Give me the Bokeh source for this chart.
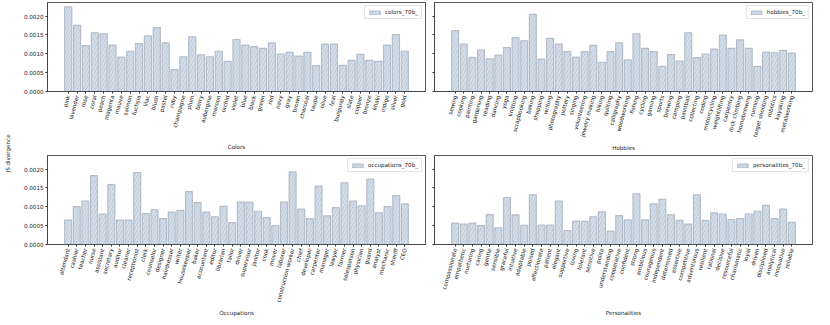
import math
from bokeh.plotting import figure
from bokeh.layouts import row, column
from bokeh.models import Range1d, FixedTicker, PrintfTickFormatter, ColumnDataSource, CustomJSTickFormatter
from bokeh.core.properties import value
from bokeh.embed import file_html
from bokeh.resources import INLINE

colors_cats = ["pink", "lavender", "rose", "coral", "peach", "magenta", "mauve", "salmon", "fuchsia",
               "lilac", "blush", "pastel", "ruby", "champagne", "plum", "berry", "aubergine", "maroon",
               "orchid", "violet", "blue", "black", "green", "red", "navy", "gray", "brown", "charcoal",
               "taupe", "olive", "teal", "burgundy", "slate", "copper", "bronze", "khaki", "indigo",
               "silver", "gold"]
colors_vals = [0.00225, 0.001755, 0.001216, 0.001559, 0.001527, 0.001233, 0.000914, 0.001069, 0.001273,
               0.001478, 0.001698, 0.00129, 0.00058, 0.000922, 0.001453, 0.000971, 0.000922, 0.001069,
               0.0008, 0.00138, 0.001233, 0.001192, 0.001143, 0.00129, 0.000996, 0.001037, 0.000939,
               0.001037, 0.000686, 0.001257, 0.001257, 0.000694, 0.000824, 0.000988, 0.000824, 0.0008,
               0.001233, 0.00151, 0.001069]

hobbies_cats = ["sewing", "cooking", "painting", "gardening", "reading", "dancing", "yoga", "knitting",
                "scrapbooking", "baking", "shopping", "writing", "photography", "pottery", "singing",
                "volunteering", "jewelry making", "hiking", "quilting", "calligraphy", "woodworking",
                "fishing", "cycling", "gaming", "sports", "brewing", "camping", "paintball", "collecting",
                "coding", "motorcycling", "weightlifting", "carpentry", "rock climbing", "homebrewing",
                "running", "target shooting", "robotics", "kayaking", "metalworking"]
hobbies_vals = [0.001616, 0.001257, 0.000906, 0.001102, 0.000865, 0.000963, 0.001167, 0.001429,
                0.001347, 0.002049, 0.000857, 0.001412, 0.001257, 0.001061, 0.000914, 0.001061,
                0.001224, 0.000776, 0.001061, 0.00129, 0.000841, 0.001527, 0.001143, 0.001061,
                0.000669, 0.00098, 0.000808, 0.001559, 0.000898, 0.000996, 0.001127, 0.001494,
                0.001143, 0.001371, 0.001143, 0.000669, 0.001045, 0.001029, 0.001094, 0.00102]

occupations_cats = ["attendant", "cashier", "teacher", "nurse", "assistant", "secretary", "auditor",
                    "cleaner", "receptionist", "clerk", "counselor", "designer", "hairdresser", "writer",
                    "housekeeper", "baker", "accountant", "editor", "librarian", "tailor", "driver",
                    "supervisor", "janitor", "cook", "mover", "laborer", "construction worker", "chief",
                    "developer", "carpenter", "manager", "lawyer", "farmer", "salesperson", "physician",
                    "guard", "analyst", "mechanic", "sheriff", "CEO"]
occupations_vals = [0.000648, 0.001004, 0.00115, 0.00183, 0.00081, 0.001587, 0.000648, 0.000648,
                    0.001911, 0.000818, 0.000923, 0.000688, 0.000858, 0.000907, 0.001401, 0.001109,
                    0.000858, 0.000737, 0.001012, 0.000583, 0.001126, 0.001126, 0.000883, 0.000713,
                    0.000502, 0.001126, 0.001927, 0.000939, 0.000688, 0.001547, 0.000761, 0.00098,
                    0.001636, 0.00115, 0.001028, 0.001733, 0.000842, 0.001004, 0.001296, 0.001077]

personalities_cats = ["compassionate", "empathetic", "nurturing", "caring", "gentle", "sensible",
                      "graceful", "intuitive", "adaptable", "poised", "affectionate", "patient",
                      "elegant", "supportive", "loving", "tolerant", "sensitive", "polite",
                      "understanding", "cooperative", "confident", "strong", "ambitious", "courageous",
                      "independent", "determined", "assertive", "competitive", "adventurous",
                      "resilient", "rational", "decisive", "resourceful", "charismatic", "loyal",
                      "driven", "disciplined", "analytical", "innovative", "reliable"]
personalities_vals = [0.000567, 0.000543, 0.000567, 0.000502, 0.000794, 0.000445, 0.001247, 0.000785,
                      0.00051, 0.00132, 0.000518, 0.000518, 0.00115, 0.000372, 0.000623, 0.000615,
                      0.000737, 0.000866, 0.000356, 0.000769, 0.000656, 0.001344, 0.000656, 0.001077,
                      0.001198, 0.000785, 0.00064, 0.000543, 0.00132, 0.00064, 0.000842, 0.00081,
                      0.000664, 0.000688, 0.00081, 0.000883, 0.001036, 0.000688, 0.000939, 0.000591]

y_ticks = [0.0, 0.0005, 0.001, 0.0015, 0.002]

FONT = "DejaVu Sans"
FS = "5.6px"
TXT = "#222222"

all_vals = colors_vals + hobbies_vals + occupations_vals + personalities_vals
y_top = max(all_vals) * 1.05


def make(cats, vals, xlabel, legend, left, right, bottom, show_y, xl_standoff, fw, fh):
    n = len(cats)
    span = n - 0.2
    xr = Range1d(-0.4 - 0.05 * span, n - 1 + 0.4 + 0.05 * span)
    p = figure(frame_width=fw, frame_height=fh, output_backend="svg", toolbar_location=None,
               x_range=xr, y_range=Range1d(0, y_top),
               min_border_left=left, min_border_right=right, min_border_top=2,
               min_border_bottom=bottom)
    src = ColumnDataSource(dict(x=list(range(n)), top=vals, name=cats))
    p.vbar(x="x", top="top", bottom=0, width=0.8, source=src,
           fill_color="#d5dfeb", line_color="#b4bdc8", line_width=1.2,
           hatch_pattern="/", hatch_color="#9fb0c5", hatch_scale=6, hatch_weight=0.6,
           hatch_alpha=0.8, legend_label=legend)
    p.xgrid.visible = False
    p.ygrid.visible = False
    p.outline_line_color = "#444444"
    p.outline_line_width = 0.9
    for ax in (p.xaxis, p.yaxis):
        ax.axis_line_color = "#444444"
        ax.axis_line_width = 0.9
        ax.major_tick_line_color = "#333333"
        ax.major_tick_out = 2
        ax.major_tick_in = 0
        ax.minor_tick_line_color = None
        ax.major_label_text_font = FONT
        ax.major_label_text_font_size = FS
        ax.major_label_text_color = TXT
        ax.major_label_standoff = 2
    p.xaxis.ticker = FixedTicker(ticks=list(range(n)))
    p.xaxis.major_label_overrides = {i: c for i, c in enumerate(cats)}
    p.xaxis.major_label_orientation = math.radians(75)
    p.xaxis.axis_label = xlabel
    p.xaxis.axis_label_text_font = FONT
    p.xaxis.axis_label_text_font_size = FS
    p.xaxis.axis_label_text_font_style = "normal"
    p.xaxis.axis_label_text_color = TXT
    p.xaxis.axis_label_standoff = xl_standoff
    p.yaxis.ticker = FixedTicker(ticks=y_ticks)
    if show_y:
        p.yaxis.formatter = PrintfTickFormatter(format="%.4f")
    else:
        p.yaxis.formatter = CustomJSTickFormatter(code="return ''")
    lg = p.legend[0]
    lg.location = "top_right"
    lg.label_text_font = FONT
    lg.label_text_font_size = FS
    lg.label_text_color = TXT
    lg.glyph_width = 13
    lg.glyph_height = 5
    lg.label_height = 5
    lg.label_standoff = 4
    lg.padding = 3
    lg.margin = 3
    lg.spacing = 0
    lg.border_line_color = "#cccccc"
    lg.border_line_width = 0.8
    lg.background_fill_alpha = 0.8
    return p


FW = 378
FH = 89
p1 = make(colors_cats, colors_vals, "Colors", "colors_70b_", 33, 4, 57, True, 12, FW, FH)
p2 = make(hobbies_cats, hobbies_vals, "Hobbies", "hobbies_70b_", 5, 2, 57, False, 3, FW, FH)
p3 = make(occupations_cats, occupations_vals, "Occupations", "occupations_70b_", 33, 4, 70, True, 3, FW, FH)
p4 = make(personalities_cats, personalities_vals, "Personalities", "personalities_70b_", 5, 2, 70, False, 16, FW, FH)

H = 309
lab = figure(width=14, height=H, x_range=Range1d(0, 1), y_range=Range1d(0, 1),
             x_axis_location=None, y_axis_location=None, min_border=0,
             outline_line_color=None, toolbar_location=None, output_backend="svg")
lab.grid.visible = False
lab.text(x=[0.5], y=[0.505], text=["JS divergence"], angle=math.pi / 2,
         text_align="center", text_baseline="middle",
         text_font=value(FONT), text_font_size=value(FS), text_color=TXT)

layout = row(lab, column(row(p1, p2), row(p3, p4)))

with open("out.html", "w") as f:
    f.write(file_html(layout, INLINE))
